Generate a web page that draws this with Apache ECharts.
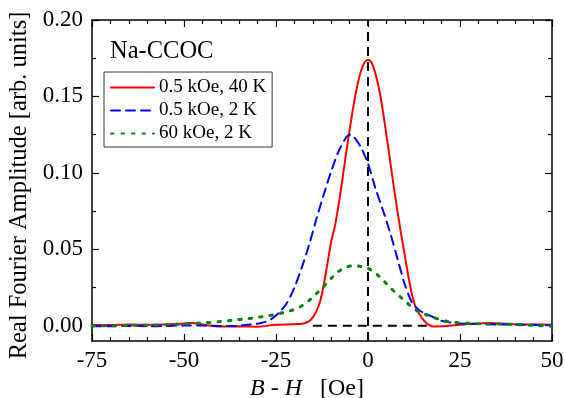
<!DOCTYPE html>
<html>
<head>
<meta charset="utf-8">
<script src="https://cdn.jsdelivr.net/npm/echarts@6/dist/echarts.min.js"></script>
<style>
  html, body { margin: 0; padding: 0; background: #fff; }
  #main { width: 564px; height: 398px; }
</style>
</head>
<body>
<div id="main"></div>
<script>
// values
var redX = [-75, -70, -65, -60, -55, -50, -48, -45, -40, -35, -30, -25, -20, -17.5, -16, -15, -14, -13, -12, -11, -10, -9, -8, -7, -6, -5, -4, -3, -2, -1, 0, 1, 2, 3, 4, 5, 6, 7, 8, 9, 10, 11, 12, 13, 14, 15, 16, 17, 18, 20, 25, 30, 33, 36, 40, 45, 50];
var redY = [0.0005, 0.0005, 0.0008, 0.0006, 0.0008, 0.0015, 0.0018, 0.0008, -0.0005, -0.0004, -0.0006, 0.0006, 0.001, 0.0015, 0.003, 0.0055, 0.0095, 0.016, 0.027, 0.041, 0.055, 0.065, 0.079, 0.095, 0.112, 0.128, 0.143, 0.156, 0.166, 0.172, 0.174, 0.172, 0.165, 0.155, 0.141, 0.125, 0.108, 0.091, 0.075, 0.060, 0.046, 0.032, 0.020, 0.012, 0.0075, 0.004, 0.0015, 0.0, -0.0005, -0.0004, 0.0007, 0.0015, 0.0018, 0.0015, 0.001, 0.0008, 0.0006];

var blueX = [-75, -70, -65, -60, -55, -50, -45, -40, -36, -34, -32, -30, -28, -26, -24, -22, -20, -18, -16, -14, -12, -10, -8, -6, -5, -4, -2, 0, 2, 4, 6, 8, 10, 12, 14, 16, 18, 20, 22, 25, 30, 35, 40, 45, 50];
var blueY = [-0.0003, -0.0003, -0.0002, -0.0003, -0.0002, 0.0002, 0.0001, -0.0002, -0.0002, 0.0003, 0.0008, 0.0013, 0.0025, 0.0048, 0.009, 0.015, 0.025, 0.038, 0.053, 0.070, 0.086, 0.101, 0.114, 0.123, 0.125, 0.124, 0.117, 0.106, 0.090, 0.076, 0.061, 0.044, 0.027, 0.015, 0.010, 0.0075, 0.0053, 0.0032, 0.0022, 0.0015, 0.0011, 0.0008, 0.0007, 0.0006, 0.0004];

var greenX = [-75, -70, -65, -60, -55, -50, -45, -40, -36, -33, -30, -27, -24, -22, -20, -18, -16, -14, -12, -10, -8, -6, -4, -2, 0, 2, 4, 6, 8, 10, 12, 14, 16, 18, 20, 22, 25, 28, 32, 36, 40, 45, 50];
var greenY = [0, 0, 0.0002, 0.0003, 0.0007, 0.0011, 0.0018, 0.0028, 0.0038, 0.0045, 0.0055, 0.0066, 0.008, 0.0092, 0.0106, 0.013, 0.0165, 0.021, 0.0258, 0.031, 0.0355, 0.0383, 0.0392, 0.0388, 0.0375, 0.0345, 0.030, 0.025, 0.0205, 0.0163, 0.012, 0.0089, 0.007, 0.0053, 0.0037, 0.0027, 0.0019, 0.0015, 0.0012, 0.0011, 0.0008, 0.0002, -0.0004];

var seriesNames = ['0.5 kOe, 40 K', '0.5 kOe, 2 K', '60 kOe, 2 K'];
var vLineX = [0, 0];
var vLineY = [-0.01, 0.2];
var hLineX = [-15, 16];
var hLineY = [0, 0];

var xMin = -75, xMax = 50, xStep = 25;
var yMin = -0.01, yMax = 0.2;
var yMajor = [0, 0.05, 0.10, 0.15, 0.20];
var yMinor = [0.025, 0.075, 0.125, 0.175];

function pairs(xs, ys) {
  var out = [];
  for (var i = 0; i < xs.length; i++) out.push([xs[i], ys[i]]);
  return out;
}

var FONT = '"Liberation Serif", "Times New Roman", serif';

var chartDom = document.getElementById('main');
var myChart = echarts.init(chartDom, null, {renderer: 'canvas'});

function xAxisOf(pos, withLabels) {
  return {
    type: 'value', position: pos, min: xMin, max: xMax, interval: xStep,
    axisLine: {show: true, onZero: false, lineStyle: {color: '#000', width: 1.5}},
    axisTick: {show: true, inside: true, length: 7, lineStyle: {color: '#000', width: 1.2}},
    minorTick: {show: true, splitNumber: 5, length: 4, lineStyle: {color: '#000', width: 1.2}},
    splitLine: {show: false},
    minorSplitLine: {show: false},
    axisLabel: {show: withLabels, color: '#000', fontSize: 23, fontFamily: FONT, margin: 8},
    name: withLabels ? '{i|B} - {i|H}   [Oe]' : '',
    nameLocation: 'middle',
    nameGap: 28,
    nameTextStyle: {
      color: '#000', fontSize: 24, fontFamily: FONT, padding: [0, 30, 0, 0],
      rich: {i: {fontStyle: 'italic', fontSize: 24, fontFamily: FONT, color: '#000'}}
    }
  };
}

function yAxisOf(pos, ticks, len, withLine, withLabels) {
  return {
    type: 'value', position: pos, offset: 0, min: yMin, max: yMax,
    axisLine: {show: withLine, onZero: false, lineStyle: {color: '#000', width: 1.5}},
    axisTick: {show: true, inside: true, length: len, customValues: ticks, lineStyle: {color: '#000', width: 1.2}},
    splitLine: {show: false},
    axisLabel: {
      show: withLabels, customValues: yMajor, color: '#000', fontSize: 23, fontFamily: FONT, margin: 9,
      formatter: function (v) { return v.toFixed(2); }
    },
    name: withLabels ? 'Real Fourier Amplitude [arb. units]' : '',
    nameLocation: 'middle',
    nameRotate: 90,
    nameGap: 57,
    nameTextStyle: {color: '#000', fontSize: 24.5, fontFamily: FONT, padding: [0, 10, 0, 0]}
  };
}

function curve(name, data, color, type, width) {
  return {
    name: name, type: 'line', data: data, smooth: 0.3,
    symbol: 'none', showSymbol: false, silent: true,
    lineStyle: {color: color, width: width, type: type, cap: 'round'},
    itemStyle: {color: color}
  };
}

var option = {
  animation: false,
  backgroundColor: '#fff',
  grid: {left: 92, right: 12, top: 20, bottom: 57, outerBoundsMode: 'none'},
  xAxis: [xAxisOf('bottom', true), xAxisOf('top', false)],
  yAxis: [
    yAxisOf('left', yMajor, 7, true, true),
    yAxisOf('left', yMinor, 4, false, false),
    yAxisOf('right', yMajor, 7, true, false),
    yAxisOf('right', yMinor, 4, false, false)
  ],
  legend: {
    data: seriesNames,
    orient: 'vertical',
    left: 104, top: 72,
    padding: [6, 6, 4, 6],
    itemWidth: 43, itemHeight: 12, itemGap: 4,
    borderColor: '#333', borderWidth: 1,
    selectedMode: false,
    itemStyle: {opacity: 0},
    textStyle: {color: '#000', fontSize: 19, lineHeight: 19, fontFamily: FONT}
  },
  graphic: [{
    type: 'text', left: 110, top: 39,
    style: {text: 'Na-CCOC', fontSize: 24.5, fontFamily: FONT, fill: '#000'}
  }],
  series: [
    curve(seriesNames[0], pairs(redX, redY), '#ff0000', 'solid', 2),
    curve(seriesNames[1], pairs(blueX, blueY), '#0000ff', [9, 6], 2),
    curve(seriesNames[2], pairs(greenX, greenY), '#0a820a', [2.5, 8], 3),
    {
      name: 'vline', type: 'line', data: pairs(vLineX, vLineY), symbol: 'none', silent: true,
      lineStyle: {color: '#000', width: 2, type: [9, 6]}, z: 5
    },
    {
      name: 'hline', type: 'line', data: pairs(hLineX, hLineY), symbol: 'none', silent: true,
      lineStyle: {color: '#000', width: 2, type: [9, 6]}, z: 5
    }
  ]
};

myChart.setOption(option);
</script>
</body>
</html>
